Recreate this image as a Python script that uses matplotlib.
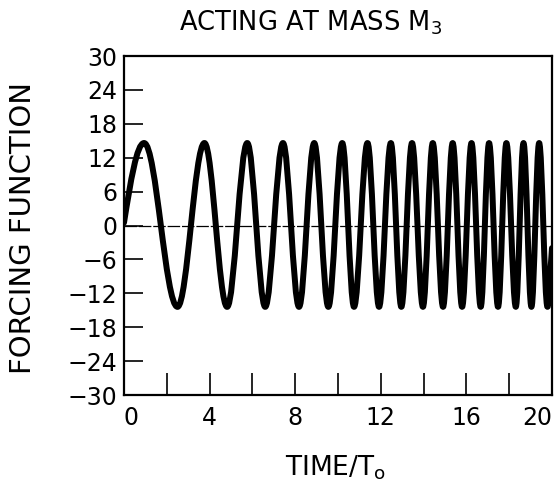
import matplotlib
matplotlib.use("Agg")
import matplotlib.pyplot as plt
from matplotlib.path import Path
from matplotlib.patches import PathPatch

# peaks / troughs of the forcing function (time/To, value)
ext_time = [0.94, 2.50, 3.76, 4.82, 5.76, 6.60, 7.43, 8.18, 8.89, 9.55,
            10.20, 10.75, 11.38, 11.92, 12.47, 12.96, 13.46, 13.97, 14.43, 14.91,
            15.36, 15.80, 16.24, 16.67, 17.06, 17.48, 17.87, 18.31, 18.67, 19.04,
            19.40, 19.79]
ext_force = [14.6, -14.4] * 16
start_pt = (0.0, 0.5)
end_pt = (20.0, -4.0)

yticks = [-30, -24, -18, -12, -6, 0, 6, 12, 18, 24, 30]
xticks = [0, 2, 4, 6, 8, 10, 12, 14, 16, 18, 20]
xlabels = ["0", "", "4", "", "8", "", "12", "", "16", "", "20"]

plt.rcParams['font.family'] = ['DejaVu Sans']

fig = plt.figure(figsize=(5.58, 4.87), dpi=100)
ax = fig.add_axes([0.2222, 0.1889, 0.7670, 0.6961])
ax.set_xlim(0, 20)
ax.set_ylim(-30, 30)

# smooth curve through the extrema (horizontal tangent at each turning point)
k = 0.3642
verts = [start_pt]
codes = [Path.MOVETO]
t0, v0 = start_pt
t1, v1 = ext_time[0], ext_force[0]
d = t1 - t0
verts += [(t0 + 0.33 * d, v0 + 0.52 * (v1 - v0)), (t1 - k * d, v1), (t1, v1)]
codes += [Path.CURVE4] * 3
for i in range(len(ext_time) - 1):
    t0, v0 = ext_time[i], ext_force[i]
    t1, v1 = ext_time[i + 1], ext_force[i + 1]
    d = t1 - t0
    verts += [(t0 + k * d, v0), (t1 - k * d, v1), (t1, v1)]
    codes += [Path.CURVE4] * 3
t0, v0 = ext_time[-1], ext_force[-1]
t1, v1 = end_pt
d = t1 - t0
verts += [(t0 + k * d, v0), (t1 - 0.33 * d, v1 - 0.3 * (v1 - v0)), (t1, v1)]
codes += [Path.CURVE4] * 3

ax.add_patch(PathPatch(Path(verts, codes), facecolor='none', edgecolor='black',
                       lw=4.3, capstyle='round', joinstyle='round'))

# zero line
ax.axhline(0, color='black', lw=0.9, ls=(0, (10, 1.5)), zorder=1)

ax.set_yticks(yticks)
ax.set_xticks(xticks)
ax.set_xticklabels(xlabels)
ax.tick_params(axis='both', direction='in', labelsize=17, width=1.2, color='black')
ax.tick_params(axis='y', length=14, pad=5)
ax.tick_params(axis='x', length=16, pad=8)
xt = ax.get_xticklabels()
xt[0].set_horizontalalignment('left')
xt[-1].set_horizontalalignment('right')
for s in ax.spines.values():
    s.set_linewidth(1.6)

ax.set_xlabel("TIME/T$_\\mathrm{o}$", fontsize=19)
ax.xaxis.set_label_coords(0.493, -0.172)
ax.set_ylabel("FORCING FUNCTION", fontsize=21)
ax.yaxis.set_label_coords(-0.203, 0.493)
fig.text(0.556, 0.938, "ACTING AT MASS M$_3$", fontsize=18.5, ha='center', va='baseline')

fig.savefig("out.png", dpi=100)
